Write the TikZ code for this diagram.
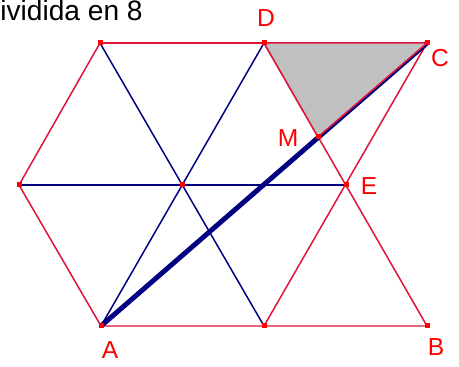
\documentclass[tikz,border=0pt]{standalone}
\usepackage{fontspec}
\setmainfont{Liberation Sans}
\usepackage{tikz}
\usetikzlibrary{calc}
\definecolor{segRed}{HTML}{DC143C}
\definecolor{segBlue}{HTML}{000080}
\definecolor{ptRed}{HTML}{FF0000}
\definecolor{areaGray}{HTML}{C0C0C0}

\begin{document}
\begin{tikzpicture}[x=0.02cm, y=-0.02cm, font=\fontsize{14}{16}\selectfont,
  redseg/.style={draw=segRed, line width=0.85pt},
  blueseg/.style={draw=segBlue, line width=0.85pt},
  lbl/.style={text=ptRed, inner sep=0pt}]
  \useasboundingbox (0,0) rectangle (459,367);
  \clip (0,0) rectangle (459,367);

  \node[anchor=base east, inner sep=0pt, font=\fontsize{16}{18}\selectfont] (title) at (143,21) {dividida en 8};

  % Points
  \coordinate (TL) at (100,43);
  \coordinate (D) at (264,43);
  \coordinate (C) at (427,43);
  \coordinate (L) at (19,185);
  \coordinate (O) at (182,185);
  \coordinate (E) at (346,185);
  \coordinate (A) at (101,326);
  \coordinate (BM) at (264,326);
  \coordinate (B) at (427,326);
  \coordinate (M) at (318,137);

  % Blue diagonals
  \draw[blueseg] (TL) -- (BM);
  \draw[blueseg] (D) -- (A);
  \draw[blueseg] (L) -- (E);

  % Red edges
  \draw[redseg] (TL) -- (C);
  \draw[redseg] (TL) -- (L) -- (A) -- (B);
  \draw[redseg] (D) -- (B);
  \draw[redseg] (C) -- (BM);

  % Thick diagonal AC
  \draw[draw=segBlue, line width=2.8pt] (A) -- (C);

  % Shaded triangle
  \filldraw[fill=areaGray, draw=segRed, line width=0.85pt] (D) -- (C) -- (M) -- cycle;

  % Point marks
  \foreach \p in {TL,D,C,L,O,E,A,BM,B,M}
    \fill[ptRed] ($(\p)+(-2.5,-2.5)$) rectangle ($(\p)+(2.5,2.5)$);

  % Labels
  \node[lbl] (lD) at (266,18) {D};
  \node[lbl] (lC) at (440,58) {C};
  \node[lbl] (lM) at (288,138) {M};
  \node[lbl] (lE) at (369,186) {E};
  \node[lbl] (lA) at (110,350) {A};
  \node[lbl] (lB) at (436,347) {B};
\end{tikzpicture}
\end{document}
